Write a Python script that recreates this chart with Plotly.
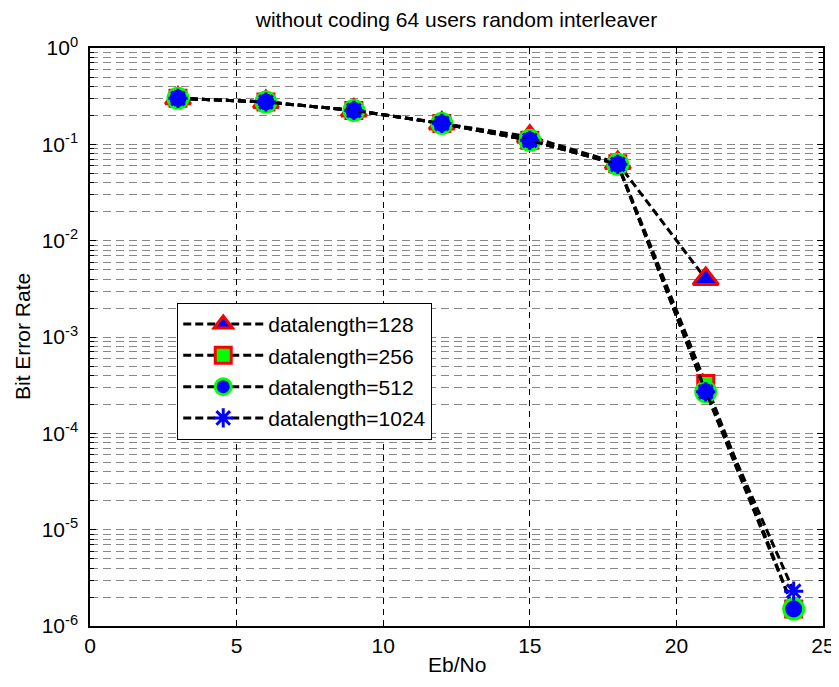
import plotly.graph_objects as go

ebno = [3, 6, 9, 12, 15, 18, 21, 24]
ebno_128 = [3, 6, 9, 12, 15, 18, 21]
ber_128 = [0.30, 0.275, 0.225, 0.165, 0.12, 0.064, 0.0040]
ber_256 = [0.30, 0.275, 0.225, 0.165, 0.11, 0.063, 3.3e-4, 1.5e-6]
ber_512 = [0.30, 0.275, 0.225, 0.165, 0.11, 0.062, 2.7e-4, 1.5e-6]
ber_1024 = [0.30, 0.275, 0.225, 0.165, 0.11, 0.062, 2.7e-4, 2.3e-6]

names = ["datalength=128", "datalength=256", "datalength=512", "datalength=1024"]
x_ticks = [0, 5, 10, 15, 20, 25]
y_decades = [-6, -5, -4, -3, -2, -1, 0]

FONT = "Liberation Sans, Arial, sans-serif"
LINE = dict(color="black", width=3, dash="8px,4px")
FS = 21

fig = go.Figure()
fig.add_trace(go.Scatter(
    x=ebno_128, y=ber_128, name=names[0], mode="lines+markers", legendgroup="a",
    line=LINE,
    marker=dict(symbol="triangle-up", size=22, color="blue", line=dict(color="red", width=3))))
fig.add_trace(go.Scatter(
    x=ebno, y=ber_256, name=names[1], mode="lines+markers", legendgroup="b",
    line=LINE,
    marker=dict(symbol="square", size=16, color="#00ff00", line=dict(color="red", width=3))))
fig.add_trace(go.Scatter(
    x=ebno, y=ber_512, name=names[2], mode="lines+markers", legendgroup="c",
    line=LINE,
    marker=dict(symbol="circle", size=20, color="blue", line=dict(color="#00ff00", width=3))))
fig.add_trace(go.Scatter(
    x=ebno, y=ber_1024, name=names[3], mode="lines+markers", legendgroup="d",
    line=LINE,
    marker=dict(symbol="asterisk-open", size=16, color="blue", line=dict(color="blue", width=3))))

minor_vals = [k * 10 ** e for e in range(-6, 0) for k in range(2, 10)]

# page has an 8px body margin, so the figure is 8px smaller and margins shifted
W, H = 831, 679
fig.update_layout(
    width=W, height=H,
    margin=dict(l=82, r=16, t=40, b=61, autoexpand=False),
    paper_bgcolor="white", plot_bgcolor="white",
    font=dict(family=FONT, size=FS, color="black"),
    title=dict(text="without coding 64 users random interleaver", xref="paper", x=0.5, xanchor="center",
               y=1 - 12 / H, yanchor="middle", font=dict(size=FS, color="black"), automargin=False),
    showlegend=True,
    legend=dict(x=0.119, y=0.559, xanchor="left", yanchor="top",
                bordercolor="black", borderwidth=1, bgcolor="white",
                font=dict(size=FS, color="black"), tracegroupgap=1,
                itemwidth=80),
    xaxis=dict(
        range=[0, 25], tickvals=x_ticks, ticktext=[str(v) for v in x_ticks],
        ticks="inside", ticklen=6, tickcolor="black", mirror="allticks",
        showline=True, linecolor="black", linewidth=1.5, automargin=False,
        showgrid=True, gridcolor="black", gridwidth=1, griddash="6px,5px",
        zeroline=False, tickfont=dict(size=FS),
    ),
    yaxis=dict(
        type="log", range=[-6, 0], automargin=False,
        tickvals=[10 ** e for e in y_decades],
        ticktext=["10<sup>%d</sup>" % e for e in y_decades],
        ticks="inside", ticklen=6, tickcolor="black", mirror="allticks",
        showline=True, linecolor="black", linewidth=1.5, ticklabelstandoff=6,
        showgrid=True, gridcolor="#888888", gridwidth=1, griddash="8px,5px",
        zeroline=False, tickfont=dict(size=FS),
        minor=dict(tickvals=minor_vals, ticks="inside", ticklen=4, tickcolor="black",
                   showgrid=True, gridcolor="#888888", gridwidth=1, griddash="8px,5px"),
    ),
    annotations=[
        dict(text="Eb/No", xref="paper", yref="paper", x=0.5, y=-39 / 578.5,
             xanchor="center", yanchor="middle", showarrow=False, font=dict(size=FS)),
        dict(text="Bit Error Rate", xref="paper", yref="paper", x=-68 / 733, y=0.5,
             xanchor="center", yanchor="middle", showarrow=False, textangle=-90,
             font=dict(size=FS)),
    ],
)

fig.write_html("out.html")
